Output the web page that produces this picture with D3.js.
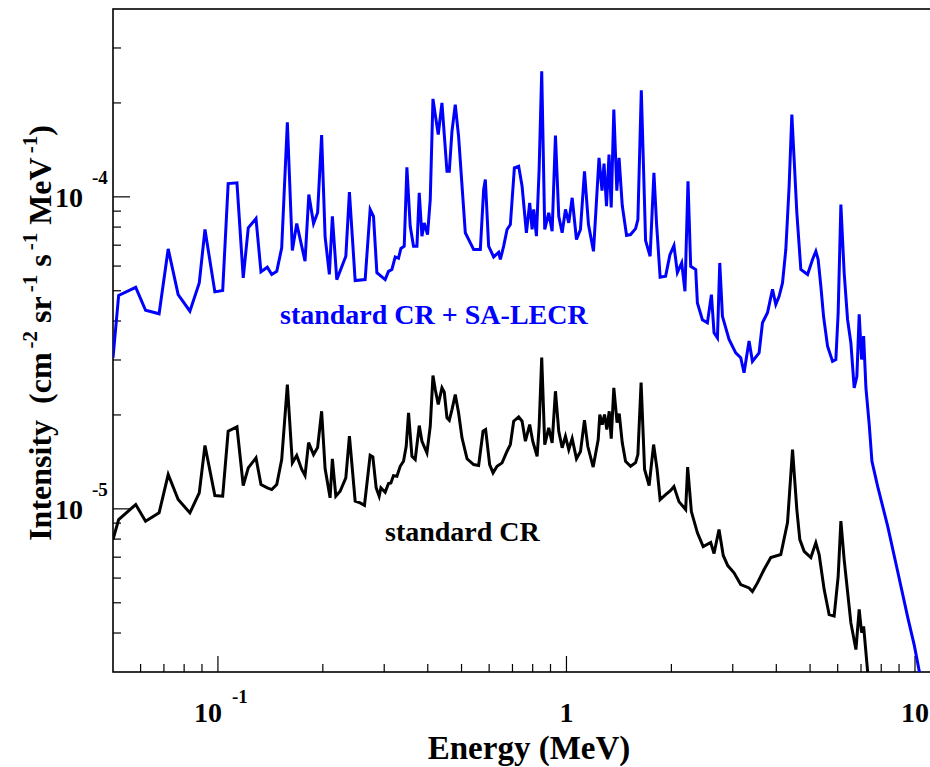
<!DOCTYPE html>
<html>
<head>
<meta charset="utf-8">
<script src="https://cdn.jsdelivr.net/npm/d3@7"></script>
<style>
  body { margin: 0; background: #fff; }
  text { font-family: "Liberation Serif", "Times New Roman", serif; font-weight: bold; }
</style>
</head>
<body>
<div id="chart"></div>
<script>
// [energy (MeV), intensity (cm^-2 sr^-1 s^-1 MeV^-1)]
const lecrSpectrum = [
  [0.0500, 3.05e-5], [0.0519, 4.83e-5], [0.0581, 5.13e-5], [0.0620, 4.33e-5], [0.0678, 4.22e-5],
  [0.0720, 6.81e-5], [0.0769, 4.86e-5], [0.0831, 4.30e-5], [0.0884, 5.30e-5], [0.0918, 7.86e-5],
  [0.0980, 4.96e-5], [0.1032, 5.01e-5], [0.1070, 1.103e-4], [0.1134, 1.109e-4], [0.1182, 5.50e-5],
  [0.1222, 7.96e-5], [0.1286, 8.52e-5], [0.1329, 5.75e-5], [0.1386, 5.95e-5], [0.1427, 5.64e-5],
  [0.1475, 5.77e-5], [0.1524, 6.86e-5], [0.1582, 1.734e-4], [0.1635, 6.73e-5], [0.1683, 8.21e-5],
  [0.1778, 6.22e-5], [0.1823, 1.017e-4], [0.1881, 8.21e-5], [0.1932, 8.89e-5], [0.1984, 1.578e-4],
  [0.2030, 7.46e-5], [0.2088, 5.64e-5], [0.2130, 8.66e-5], [0.2193, 5.43e-5], [0.2328, 6.45e-5],
  [0.2384, 1.035e-4], [0.2476, 5.39e-5], [0.2645, 5.43e-5], [0.2734, 9.11e-5], [0.2795, 8.66e-5],
  [0.2858, 5.71e-5], [0.3019, 5.43e-5], [0.3086, 5.77e-5], [0.3156, 5.85e-5], [0.3226, 6.42e-5],
  [0.3297, 6.36e-5], [0.3350, 6.83e-5], [0.3424, 6.95e-5], [0.3485, 1.244e-4], [0.3562, 8.05e-5],
  [0.3641, 6.95e-5], [0.3724, 6.95e-5], [0.3781, 1.030e-4], [0.3849, 7.48e-5], [0.3908, 8.25e-5],
  [0.3994, 7.57e-5], [0.4066, 9.80e-5], [0.4140, 2.061e-4], [0.4203, 1.835e-4], [0.4287, 1.584e-4],
  [0.4393, 2.001e-4], [0.4541, 1.208e-4], [0.4611, 1.208e-4], [0.4694, 1.623e-4], [0.4797, 1.976e-4],
  [0.4903, 1.564e-4], [0.5126, 7.67e-5], [0.5299, 7.12e-5], [0.5416, 6.78e-5], [0.5661, 6.78e-5],
  [0.5786, 1.055e-4], [0.5851, 1.136e-4], [0.5980, 6.95e-5], [0.6181, 6.42e-5], [0.6390, 6.64e-5],
  [0.6461, 6.30e-5], [0.6604, 6.95e-5], [0.6754, 7.86e-5], [0.6903, 8.15e-5], [0.7089, 1.239e-4],
  [0.7293, 1.254e-4], [0.7459, 1.081e-4], [0.7675, 7.67e-5], [0.7844, 9.57e-5], [0.7970, 7.86e-5],
  [0.8054, 9.11e-5], [0.8200, 7.48e-5], [0.8348, 1.223e-4], [0.8492, 2.527e-4], [0.8663, 7.86e-5],
  [0.8895, 8.89e-5], [0.9097, 7.76e-5], [0.9298, 1.572e-4], [0.9504, 8.66e-5], [0.9719, 7.67e-5],
  [0.9934, 9.11e-5], [1.0153, 8.25e-5], [1.0384, 9.93e-5], [1.0684, 7.30e-5], [1.0970, 7.86e-5],
  [1.1264, 1.208e-4], [1.1566, 8.15e-5], [1.1955, 6.69e-5], [1.2400, 1.334e-4], [1.2647, 1.047e-4],
  [1.2817, 1.278e-4], [1.3028, 9.33e-5], [1.3246, 1.366e-4], [1.3440, 9.24e-5], [1.3674, 1.905e-4],
  [1.3948, 1.047e-4], [1.4155, 1.334e-4], [1.4458, 9.38e-5], [1.4874, 7.52e-5], [1.5273, 7.57e-5],
  [1.5788, 7.91e-5], [1.6030, 8.46e-5], [1.6396, 2.196e-4], [1.6866, 7.24e-5], [1.7378, 6.45e-5],
  [1.7821, 1.194e-4], [1.8141, 8.15e-5], [1.8567, 5.53e-5], [1.9255, 5.57e-5], [1.9810, 6.53e-5],
  [2.0343, 6.98e-5], [2.0806, 5.72e-5], [2.1409, 6.14e-5], [2.1878, 4.98e-5], [2.2320, 1.122e-4],
  [2.2720, 5.99e-5], [2.3486, 5.85e-5], [2.3752, 4.57e-5], [2.4547, 4.04e-5], [2.5374, 3.95e-5],
  [2.6055, 4.86e-5], [2.6509, 3.67e-5], [2.7114, 3.53e-5], [2.7530, 6.14e-5], [2.8023, 4.14e-5],
  [2.9276, 3.49e-5], [3.0594, 3.16e-5], [3.1623, 3.05e-5], [3.2323, 2.73e-5], [3.3412, 3.45e-5],
  [3.4168, 2.97e-5], [3.5697, 3.16e-5], [3.6511, 3.95e-5], [3.7736, 4.25e-5], [3.9007, 5.05e-5],
  [3.9870, 4.52e-5], [4.0752, 4.80e-5], [4.1673, 5.30e-5], [4.2596, 6.78e-5], [4.3537, 1.081e-4],
  [4.4324, 1.835e-4], [4.5005, 1.317e-4], [4.5810, 8.89e-5], [4.7040, 5.85e-5], [4.9177, 5.64e-5],
  [5.0816, 6.30e-5], [5.1940, 6.69e-5], [5.2735, 6.30e-5], [5.3690, 5.17e-5], [5.4653, 4.14e-5],
  [5.6120, 3.32e-5], [5.7999, 2.97e-5], [5.9284, 3.01e-5], [6.0194, 4.25e-5], [6.1283, 9.45e-5],
  [6.2625, 5.71e-5], [6.4054, 4.04e-5], [6.5472, 3.40e-5], [6.6920, 2.44e-5], [6.8119, 2.66e-5],
  [6.9163, 4.20e-5], [7.0274, 3.01e-5], [7.1220, 3.58e-5], [7.2312, 2.44e-5], [7.3912, 1.86e-5],
  [7.5240, 1.42e-5], [7.8136, 1.18e-5], [8.3483, 8.80e-6], [8.9189, 6.30e-6], [9.5280, 4.50e-6],
  [9.9540, 3.65e-6], [10.29, 3.01e-6], [10.60, 2.50e-6]
];

const crSpectrum = [
  [0.0500, 7.97e-6], [0.0519, 9.24e-6], [0.0581, 1.032e-5], [0.0620, 9.13e-6], [0.0678, 9.71e-6],
  [0.0720, 1.288e-5], [0.0769, 1.071e-5], [0.0831, 9.71e-6], [0.0884, 1.125e-5], [0.0918, 1.596e-5],
  [0.0980, 1.103e-5], [0.1032, 1.098e-5], [0.1070, 1.773e-5], [0.1134, 1.832e-5], [0.1182, 1.188e-5],
  [0.1222, 1.353e-5], [0.1286, 1.457e-5], [0.1329, 1.196e-5], [0.1386, 1.168e-5], [0.1427, 1.153e-5],
  [0.1475, 1.196e-5], [0.1524, 1.439e-5], [0.1582, 2.502e-5], [0.1635, 1.404e-5], [0.1683, 1.482e-5],
  [0.1740, 1.337e-5], [0.1778, 1.278e-5], [0.1820, 1.631e-5], [0.1881, 1.493e-5], [0.1932, 1.572e-5],
  [0.1984, 2.055e-5], [0.2030, 1.346e-5], [0.2098, 1.085e-5], [0.2130, 1.447e-5], [0.2179, 1.098e-5],
  [0.2242, 1.139e-5], [0.2328, 1.257e-5], [0.2384, 1.709e-5], [0.2476, 1.058e-5], [0.2559, 1.045e-5],
  [0.2633, 1.027e-5], [0.2734, 1.485e-5], [0.2783, 1.468e-5], [0.2845, 1.168e-5], [0.2902, 1.098e-5],
  [0.2935, 1.168e-5], [0.3019, 1.130e-5], [0.3086, 1.205e-5], [0.3135, 1.211e-5], [0.3189, 1.278e-5],
  [0.3262, 1.272e-5], [0.3334, 1.369e-5], [0.3408, 1.421e-5], [0.3469, 1.587e-5], [0.3523, 2.031e-5],
  [0.3603, 1.474e-5], [0.3682, 1.439e-5], [0.3781, 1.849e-5], [0.3849, 1.647e-5], [0.3978, 1.512e-5],
  [0.4066, 1.839e-5], [0.4140, 2.674e-5], [0.4203, 2.412e-5], [0.4287, 2.160e-5], [0.4393, 2.443e-5],
  [0.4461, 2.364e-5], [0.4541, 1.957e-5], [0.4611, 1.923e-5], [0.4694, 2.081e-5], [0.4797, 2.324e-5],
  [0.4903, 2.031e-5], [0.5015, 1.689e-5], [0.5185, 1.447e-5], [0.5416, 1.387e-5], [0.5598, 1.377e-5],
  [0.5763, 1.773e-5], [0.5863, 1.795e-5], [0.6020, 1.387e-5], [0.6157, 1.304e-5], [0.6322, 1.369e-5],
  [0.6535, 1.404e-5], [0.6754, 1.530e-5], [0.6903, 1.607e-5], [0.7056, 1.909e-5], [0.7293, 1.972e-5],
  [0.7459, 1.909e-5], [0.7624, 1.647e-5], [0.7844, 1.863e-5], [0.8003, 1.647e-5], [0.8238, 1.474e-5],
  [0.8348, 1.839e-5], [0.8492, 3.054e-5], [0.8663, 1.607e-5], [0.8895, 1.818e-5], [0.9097, 1.628e-5],
  [0.9298, 2.382e-5], [0.9504, 1.773e-5], [0.9719, 1.569e-5], [0.9934, 1.709e-5], [1.0153, 1.549e-5],
  [1.0384, 1.680e-5], [1.0684, 1.447e-5], [1.0970, 1.526e-5], [1.1264, 1.923e-5], [1.1513, 1.587e-5],
  [1.1930, 1.361e-5], [1.2333, 1.668e-5], [1.2464, 2.005e-5], [1.2664, 1.863e-5], [1.2859, 2.005e-5],
  [1.3056, 1.795e-5], [1.3265, 2.055e-5], [1.3440, 1.680e-5], [1.3674, 2.443e-5], [1.3968, 1.891e-5],
  [1.4171, 2.020e-5], [1.4458, 1.628e-5], [1.4775, 1.421e-5], [1.5273, 1.369e-5], [1.5788, 1.407e-5],
  [1.6030, 1.493e-5], [1.6373, 2.540e-5], [1.6755, 1.337e-5], [1.7266, 1.188e-5], [1.7783, 1.607e-5],
  [1.8200, 1.337e-5], [1.8567, 1.071e-5], [1.9255, 1.111e-5], [1.9905, 1.145e-5], [2.0343, 1.179e-5],
  [2.1025, 1.055e-5], [2.1979, 9.95e-6], [2.2270, 1.361e-5], [2.2825, 9.80e-6], [2.3752, 8.38e-6],
  [2.4677, 7.57e-6], [2.5935, 7.80e-6], [2.6509, 7.19e-6], [2.7398, 8.59e-6], [2.8173, 7.09e-6],
  [2.9020, 6.58e-6], [3.0254, 6.24e-6], [3.1623, 5.72e-6], [3.3412, 5.58e-6], [3.4168, 5.43e-6],
  [3.5318, 5.79e-6], [3.6898, 6.39e-6], [3.8569, 6.98e-6], [4.1205, 7.14e-6], [4.3075, 9.04e-6],
  [4.4528, 1.549e-5], [4.5810, 9.95e-6], [4.6728, 7.97e-6], [4.8084, 7.31e-6], [5.0255, 6.98e-6],
  [5.1940, 7.78e-6], [5.3088, 7.14e-6], [5.4877, 5.51e-6], [5.6714, 4.58e-6], [5.8617, 4.53e-6],
  [6.0194, 6.08e-6], [6.1283, 9.13e-6], [6.2625, 6.88e-6], [6.5472, 4.31e-6], [6.7681, 3.54e-6],
  [6.9163, 4.76e-6], [7.0274, 4.01e-6], [7.1220, 4.20e-6], [7.3132, 3.01e-6], [7.45, 2.60e-6]
];

const xTickValues = [0.1, 1, 10];
const xTickLabels = [['10', '-1'], ['1', ''], ['10', '']];
const yTickValues = [1e-5, 1e-4];
const yTickLabels = [['10', '-5'], ['10', '-4']];

const seriesLabels = ['standard CR + SA-LECR', 'standard CR'];

const width = 930;
const height = 767;
const margin = {top: 9, right: 0, bottom: 95, left: 113};

const svg = d3.select('#chart')
  .append('svg')
  .attr('width', width)
  .attr('height', height);

const x = d3.scaleLog()
  .domain([0.05, 10])
  .range([margin.left, 915]);

const y = d3.scaleLog()
  .domain([3e-6, 4e-4])
  .range([height - margin.bottom, margin.top]);

const plotRight = x(12);
const isMajor = v => Math.abs(Math.log10(v) - Math.round(Math.log10(v))) < 1e-9;

svg.append('clipPath')
  .attr('id', 'plot-area')
  .append('rect')
  .attr('x', margin.left)
  .attr('y', margin.top)
  .attr('width', plotRight - margin.left)
  .attr('height', y.range()[0] - margin.top);

// Frame
svg.append('rect')
  .attr('x', margin.left)
  .attr('y', margin.top)
  .attr('width', plotRight - margin.left)
  .attr('height', y.range()[0] - margin.top)
  .attr('fill', 'none')
  .attr('stroke', '#000')
  .attr('stroke-width', 1.6);

// Ticks point into the plot
const xTicks = x.ticks().filter(v => v > 0.05 && v < 12);
svg.append('g')
  .selectAll('line')
  .data(xTicks)
  .join('line')
  .attr('x1', d => x(d))
  .attr('x2', d => x(d))
  .attr('y1', y.range()[0])
  .attr('y2', d => y.range()[0] - (isMajor(d) ? 16 : 8))
  .attr('stroke', '#000')
  .attr('stroke-width', 1.2);

const yTicks = y.ticks().filter(v => v > 3e-6 && v < 4e-4);
svg.append('g')
  .selectAll('line')
  .data(yTicks)
  .join('line')
  .attr('x1', margin.left)
  .attr('x2', d => margin.left + (isMajor(d) ? 17 : 8))
  .attr('y1', d => y(d))
  .attr('y2', d => y(d))
  .attr('stroke', '#000')
  .attr('stroke-width', 1.2);

// Tick labels with superscript exponents
const xLabel = svg.append('g')
  .selectAll('g')
  .data(xTickValues.map((v, i) => ({v, label: xTickLabels[i]})))
  .join('g')
  .attr('transform', d => `translate(${x(d.v)},0)`);

xLabel.append('text')
  .attr('x', d => d.label[1] ? 4 : 0)
  .attr('y', 722)
  .attr('text-anchor', d => d.label[1] ? 'end' : 'middle')
  .attr('font-size', 28)
  .text(d => d.label[0]);

xLabel.append('text')
  .attr('x', 14)
  .attr('y', 703)
  .attr('font-size', 19)
  .text(d => d.label[1]);

const yLabel = svg.append('g')
  .selectAll('g')
  .data(yTickValues.map((v, i) => ({v, label: yTickLabels[i]})))
  .join('g')
  .attr('transform', d => `translate(0,${y(d.v)})`);

yLabel.append('text')
  .attr('x', 83)
  .attr('y', 10)
  .attr('text-anchor', 'end')
  .attr('font-size', 28)
  .text(d => d.label[0]);

yLabel.append('text')
  .attr('x', 92)
  .attr('y', -13)
  .attr('font-size', 19)
  .text(d => d.label[1]);

// Axis titles
svg.append('text')
  .attr('x', 529)
  .attr('y', 759)
  .attr('text-anchor', 'middle')
  .attr('font-size', 33)
  .text('Energy (MeV)');

const yTitle = svg.append('text')
  .attr('transform', 'translate(51,333) rotate(-90)')
  .attr('text-anchor', 'middle')
  .attr('font-size', 32);

[['Intensity\u00a0\u00a0(cm', 0], ['-2', 1], ['\u00a0sr', 0], ['-1', 1], ['\u00a0s', 0], ['-1', 1],
  ['\u00a0MeV', 0], ['-1', 1], [')', 0]].forEach(([t, sup], i, parts) => {
  const prevSup = i > 0 && parts[i - 1][1];
  yTitle.append('tspan')
    .attr('font-size', sup ? 21 : 32)
    .attr('dy', sup ? -14 : (prevSup ? 14 : 0))
    .attr('dx', sup ? 4 : 0)
    .text(t);
});

// Spectra
const line = d3.line()
  .x(d => x(d[0]))
  .y(d => y(d[1]));

const curves = svg.append('g')
  .attr('clip-path', 'url(#plot-area)');

curves.append('path')
  .datum(crSpectrum)
  .attr('fill', 'none')
  .attr('stroke', '#000')
  .attr('stroke-width', 3)
  .attr('d', line);

curves.append('path')
  .datum(lecrSpectrum)
  .attr('fill', 'none')
  .attr('stroke', '#0000ff')
  .attr('stroke-width', 3)
  .attr('d', line);

// Curve labels
svg.append('text')
  .attr('x', 280)
  .attr('y', 324)
  .attr('font-size', 28)
  .attr('fill', '#0000ff')
  .text(seriesLabels[0]);

svg.append('text')
  .attr('x', 385)
  .attr('y', 541)
  .attr('font-size', 28)
  .attr('fill', '#000')
  .text(seriesLabels[1]);
</script>
</body>
</html>
